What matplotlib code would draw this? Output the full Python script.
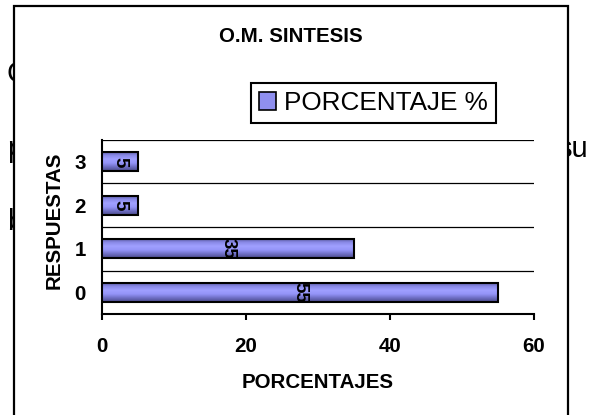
import numpy as np
import matplotlib.pyplot as plt
from matplotlib.colors import LinearSegmentedColormap
from matplotlib.patches import Rectangle

plt.rcParams['font.family'] = ['Liberation Sans', 'DejaVu Sans']

# chart data
respuestas = [0, 1, 2, 3]
porcentajes = [55, 35, 5, 5]
x_ticks = [0, 20, 40, 60]
title = 'O.M. SINTESIS'
legend_label = 'PORCENTAJE %'

W, H = 589, 415
fig = plt.figure(figsize=(W / 100, H / 100), dpi=100)

# bits of the page text that sit behind the chart
for txt, x, y in [('C', 6.5, 82), ('p', 7.5, 157), ('b', 7, 230), ('su', 557, 157)]:
    fig.text(x / W, 1 - y / H, txt, fontsize=21, va='baseline', ha='left', zorder=-3)

# white chart frame
fig.patches.append(Rectangle((13.5 / W, -0.02), (567.5 - 13.5) / W, 1 - 6 / H + 0.02,
                             transform=fig.transFigure, facecolor='white',
                             edgecolor='black', linewidth=1.6, zorder=-2))

ax = fig.add_axes([102 / W, 1 - 314 / H, (534 - 102) / W, (314 - 140) / H])
ax.set_facecolor('none')

bar_h = 0.44
bars = ax.barh(respuestas, porcentajes, height=bar_h, color='#8f8fef',
               edgecolor='black', linewidth=1.5, zorder=3)

# shaded look of the bars
cmap = LinearSegmentedColormap.from_list('bar', ['#55559a', '#8888e6', '#a0a0ff', '#9494f8', '#6e6ec4', '#4a4a8a'])
grad = np.linspace(0, 1, 64).reshape(-1, 1)
for b in bars:
    im = ax.imshow(grad, cmap=cmap, aspect='auto', origin='upper', zorder=3.5,
                   extent=[b.get_x(), b.get_x() + b.get_width(), b.get_y(), b.get_y() + b.get_height()])
    im.set_clip_path(b)
    b.set_facecolor('none')
    b.set_zorder(4)

ax.bar_label(bars, labels=[str(v) for v in porcentajes], label_type='center',
             rotation=270, fontsize=13.5, fontweight='bold', zorder=5)

ax.set_xlim(0, 60)
ax.set_ylim(-0.5, 3.5)
ax.set_xticks(x_ticks)
ax.set_xticklabels([str(t) for t in x_ticks], fontsize=14.8, fontweight='bold')
ax.set_yticks(respuestas)
ax.set_yticklabels([str(r) for r in respuestas], fontsize=14.8, fontweight='bold')
ax.set_yticks([0.5, 1.5, 2.5, 3.5], minor=True)
ax.grid(which='minor', axis='y', color='black', linewidth=0.9, zorder=1)
ax.tick_params(axis='x', direction='out', length=4.5, width=1.5, pad=12)
ax.tick_params(axis='y', length=0, pad=11.5)
ax.tick_params(which='minor', length=0)

for s in ['top', 'right']:
    ax.spines[s].set_visible(False)
for s in ['left', 'bottom']:
    ax.spines[s].set_linewidth(1.5)

ax.set_xlabel('PORCENTAJES', fontsize=14.8, fontweight='bold', labelpad=12)
ax.set_ylabel('RESPUESTAS', fontsize=14.8, fontweight='bold')
ax.yaxis.set_label_coords(-0.088, 0.54)

fig.text(290.5 / W, 1 - 42 / H, title, fontsize=14.8, fontweight='bold',
         ha='center', va='baseline')

leg = fig.legend([Rectangle((0, 0), 1, 1, facecolor='#8f8fef', edgecolor='black', linewidth=1.2)],
                 [legend_label], loc='center', bbox_to_anchor=(373.5 / W, 1 - 103 / H),
                 fontsize=18.8, frameon=True, fancybox=False, framealpha=1,
                 handlelength=0.65, handleheight=0.65, handletextpad=0.3, borderpad=0.32)
leg.get_frame().set_edgecolor('black')
leg.get_frame().set_linewidth(1.5)

fig.savefig('out.png', dpi=100)
